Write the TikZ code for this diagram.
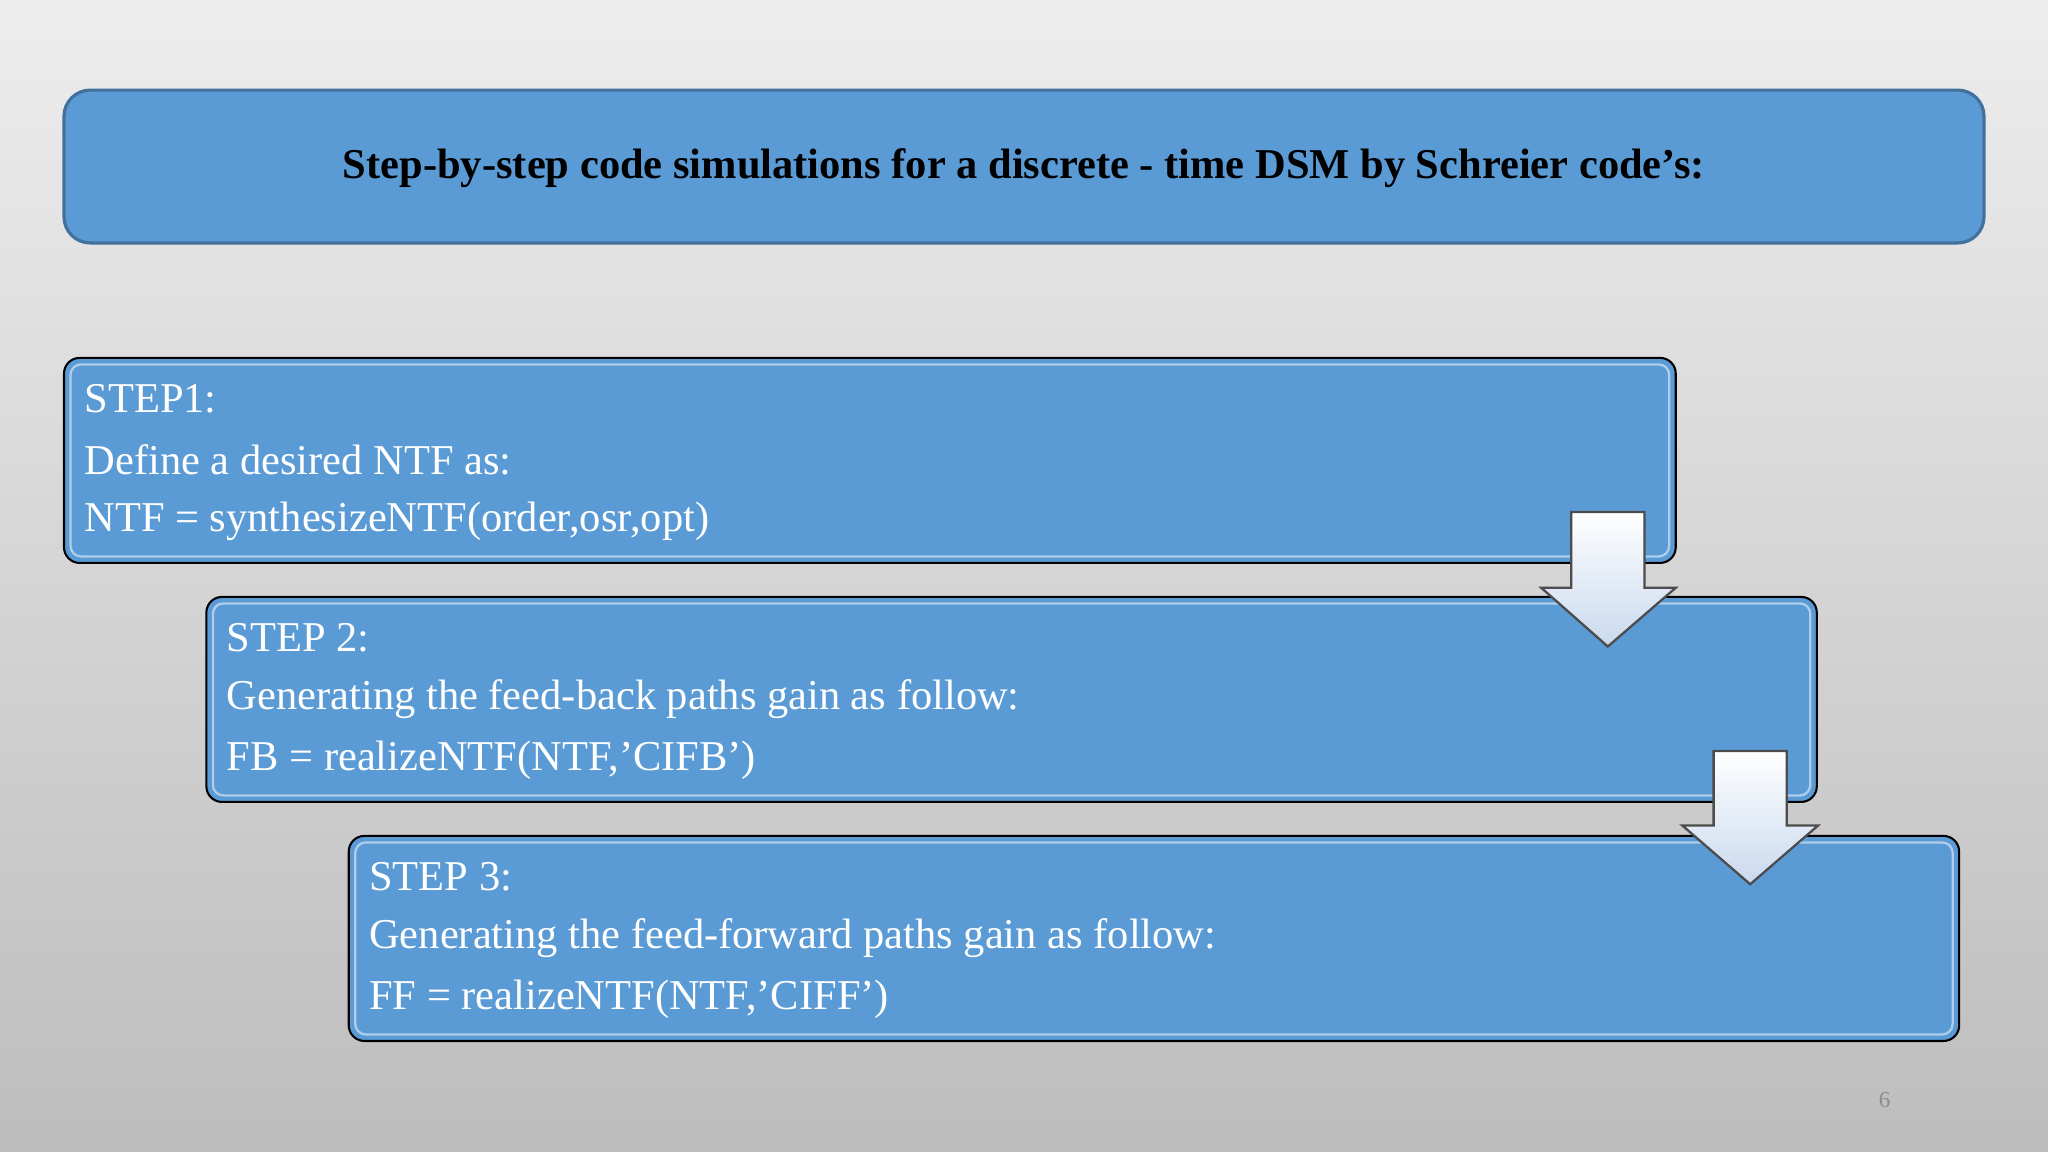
\documentclass[tikz,border=0pt]{standalone}
\usepackage{fontspec}
\setmainfont{Liberation Serif}
\definecolor{boxblue}{HTML}{5B9BD5}
\definecolor{boxedge}{HTML}{41719C}
\definecolor{bgtop}{HTML}{EDEDED}
\definecolor{bgbot}{HTML}{BDBDBD}
\definecolor{arrowfill}{HTML}{C9D9EE}
\tikzset{
  stepbox/.style={draw=black, line width=0.45pt, fill=boxblue, rounded corners=0.12cm},
  stepinner/.style={draw=white, opacity=0.5, line width=0.5pt, rounded corners=0.08cm},
  steptext/.style={anchor=west, inner sep=0pt, text=white, font=\fontsize{9.25}{10}\selectfont},
  downarrow/.style={draw=black!70, line width=0.5pt, top color=white, bottom color=arrowfill},
}
\begin{document}
\begin{tikzpicture}[x=0.01cm,y=-0.01cm]
\useasboundingbox (0,0) rectangle (1568,882);
\shade[top color=bgtop, bottom color=bgbot] (0,0) rectangle (1568,882);
% title
\draw[draw=boxedge, line width=0.7pt, fill=boxblue, rounded corners=0.2cm] (49,69) rectangle (1519,186);
\node[font=\bfseries\fontsize{9.25}{10}\selectfont, inner sep=0pt] (title) at (784,129) {Step-by-step code simulations for a discrete - time DSM by Schreier code’s:};
% step 1
\draw[stepbox] (49,274) rectangle (1283,431);
\draw[stepinner] (54,279) rectangle (1278,426);
\node[steptext] (s1a) at (64,305) {STEP1:};
\node[steptext] (s1b) at (64,352) {Define a desired NTF as:};
\node[steptext] (s1c) at (64,399) {NTF = synthesizeNTF(order,osr,opt)};
% step 2
\draw[stepbox] (158,457) rectangle (1391,614);
\draw[stepinner] (163,462) rectangle (1386,609);
\node[steptext] (s2a) at (173,488) {STEP 2:};
\node[steptext] (s2b) at (173,535) {Generating the feed-back paths gain as follow:};
\node[steptext] (s2c) at (173,582) {FB = realizeNTF(NTF,’CIFB’)};
% step 3
\draw[stepbox] (267,640) rectangle (1500,797);
\draw[stepinner] (272,645) rectangle (1495,792);
\node[steptext] (s3a) at (282,671) {STEP 3:};
\node[steptext] (s3b) at (282,718) {Generating the feed-forward paths gain as follow:};
\node[steptext] (s3c) at (282,765) {FF = realizeNTF(NTF,’CIFF’)};
% arrows
\draw[downarrow] (1203,392) -- (1259,392) -- (1259,450) -- (1283,450) -- (1231,495) -- (1180,450) -- (1203,450) -- cycle;
\draw[downarrow] (1312,575) -- (1368,575) -- (1368,632) -- (1392,632) -- (1340,677) -- (1288,632) -- (1312,632) -- cycle;
% page number
\node[text=black!45, font=\fontsize{5}{6}\selectfont] (pg) at (1443,842) {6};
\end{tikzpicture}
\end{document}
